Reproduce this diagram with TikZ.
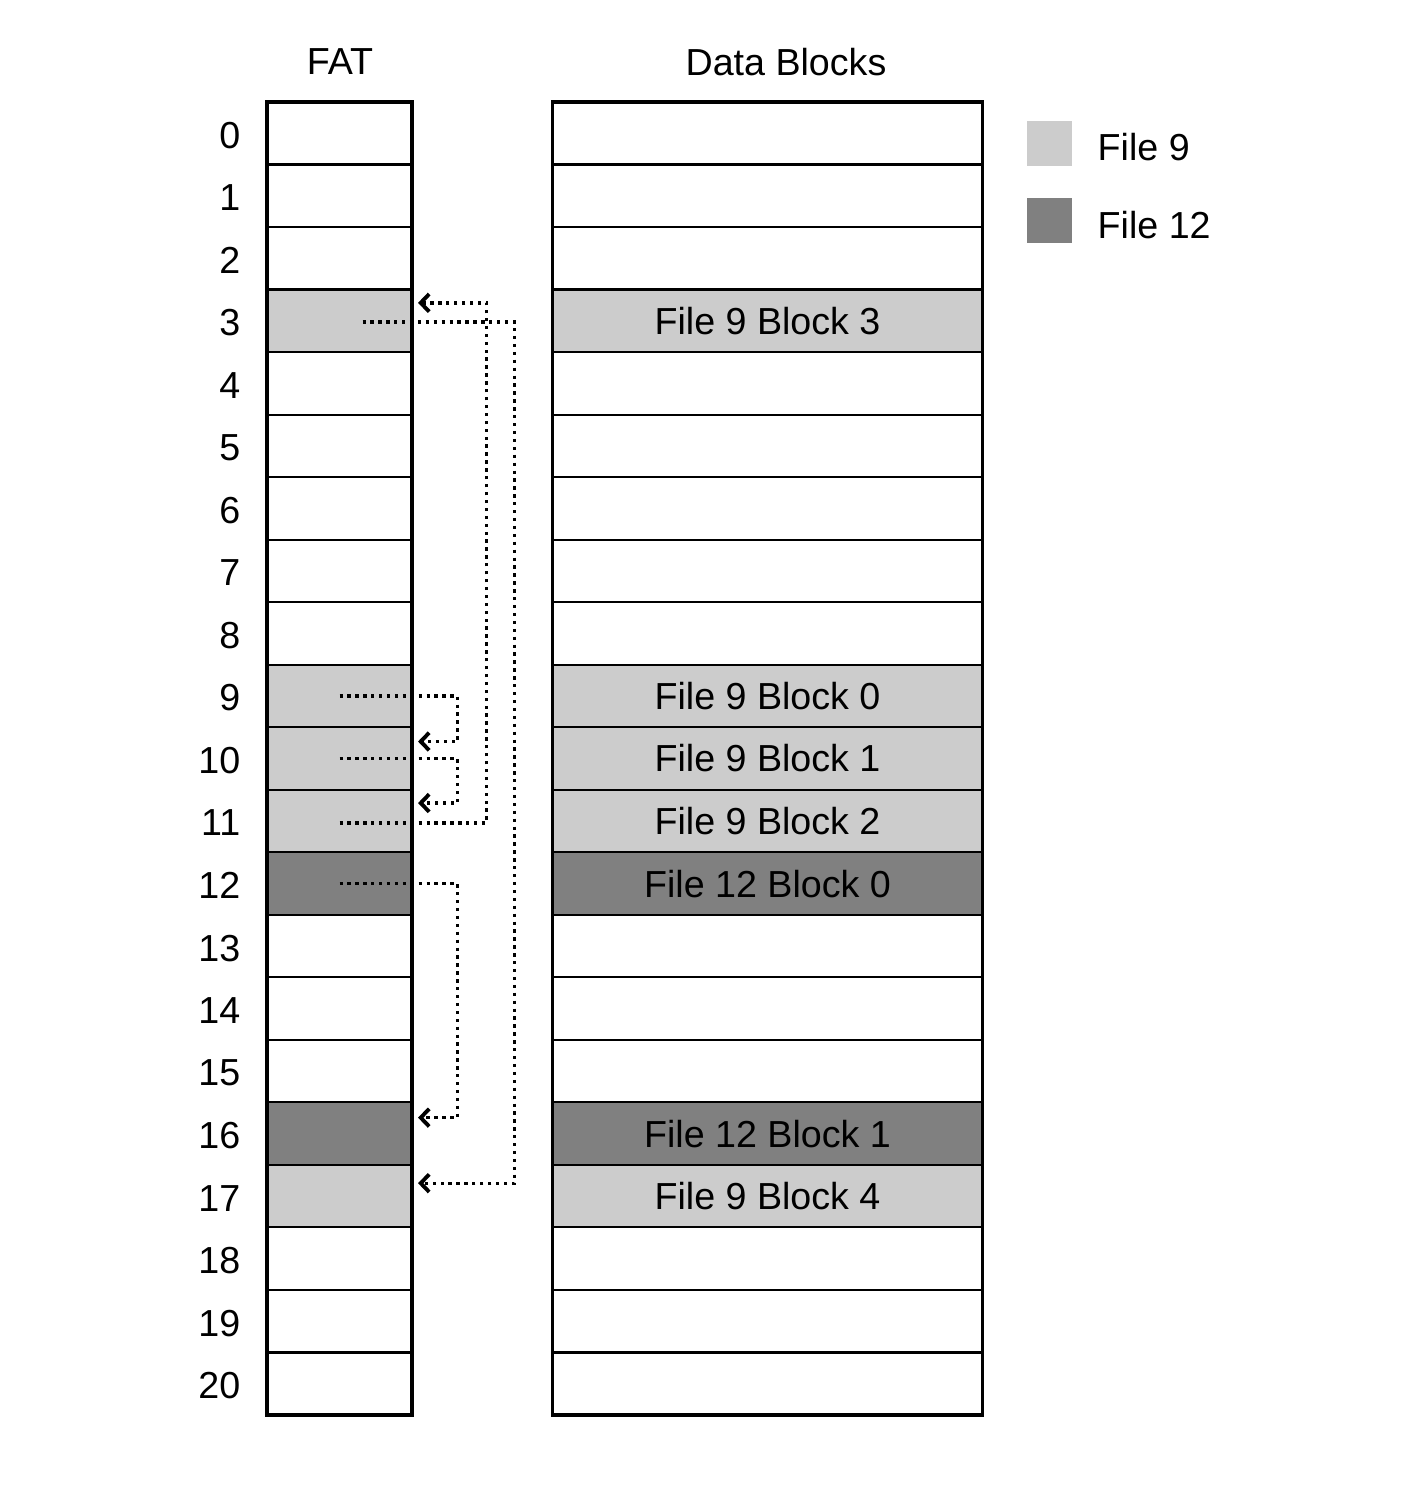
\documentclass[tikz,border=0pt]{standalone}
\usepackage{fontspec}
\setmainfont{Liberation Sans}
\usetikzlibrary{calc,arrows.meta}
\definecolor{fnine}{gray}{0.80}
\definecolor{ftwelve}{gray}{0.50}
\begin{document}
\begin{tikzpicture}[x=0.01cm,y=-0.01cm,
  every node/.style={font=\fontsize{10.7}{12}\selectfont},
  fatcell/.style={draw, line width=0.6pt, minimum width=1.45cm, minimum height=0.62524cm, inner sep=0pt, outer sep=0pt},
  datacell/.style={draw, line width=0.6pt, minimum width=4.29cm, minimum height=0.62524cm, inner sep=0pt, outer sep=0pt},
  rowlabel/.style={anchor=east, inner sep=0pt},
  frame/.style={draw, line width=0.9pt},
  link/.style={line width=0.95pt, dash pattern=on 0.95pt off 1.3pt, -{Straight Barb[length=2.4pt,width=5pt,line width=1.1pt]}},
  legendbox/.style={minimum width=0.45cm, minimum height=0.45cm, inner sep=0pt, outer sep=0pt}
]
\useasboundingbox (0,0) rectangle (1407,1500);
\fill[white] (0,0) rectangle (1407,1500);

\node (hfat) at (340,62) {FAT};
\node (hdata) at (786,62) {Data Blocks};

\foreach \i/\c/\t in {0/white/{},1/white/{},2/white/{},3/fnine/{File 9 Block 3},4/white/{},5/white/{},6/white/{},7/white/{},8/white/{},9/fnine/{File 9 Block 0},10/fnine/{File 9 Block 1},11/fnine/{File 9 Block 2},12/ftwelve/{File 12 Block 0},13/white/{},14/white/{},15/white/{},16/ftwelve/{File 12 Block 1},17/fnine/{File 9 Block 4},18/white/{},19/white/{},20/white/{}}{
  \pgfmathsetmacro\yy{102+62.524*(\i+0.5)}
  \node[fatcell, fill=\c] (f\i) at (339.5,\yy) {};
  \node[datacell, fill=\c] (d\i) at (767.5,\yy) {\t};
  \node[rowlabel] (l\i) at (241,\yy+2) {\i};
}
\draw[frame] (f0.north west) rectangle (f20.south east);
\draw[frame] (d0.north west) rectangle (d20.south east);

% legend
\node[legendbox, fill=fnine] (k9) at (1049.5,143.5) {};
\node[legendbox, fill=ftwelve] (k12) at (1049.5,220.5) {};
\node[anchor=west, inner sep=0pt] (t9) at (1097,147) {File 9};
\node[anchor=west, inner sep=0pt] (t12) at (1097,225) {File 12};

% chains
\draw[link] (f9.center) -- ++(118,0) |- ($(f10.east)+(6,-17)$);
\draw[link] (f10.center) -- ++(118,0) |- ($(f11.east)+(6,-18)$);
\draw[link] ($(f11.center)+(0,2)$) -- ++(147,0) |- ($(f3.east)+(6,-18)$);
\draw[link] ($(f3.center)+(23,1)$) -- ++(152,0) |- ($(f17.east)+(6,-13)$);
\draw[link] (f12.center) -- ++(118,0) |- ($(f16.east)+(6,-16)$);
\end{tikzpicture}
\end{document}
